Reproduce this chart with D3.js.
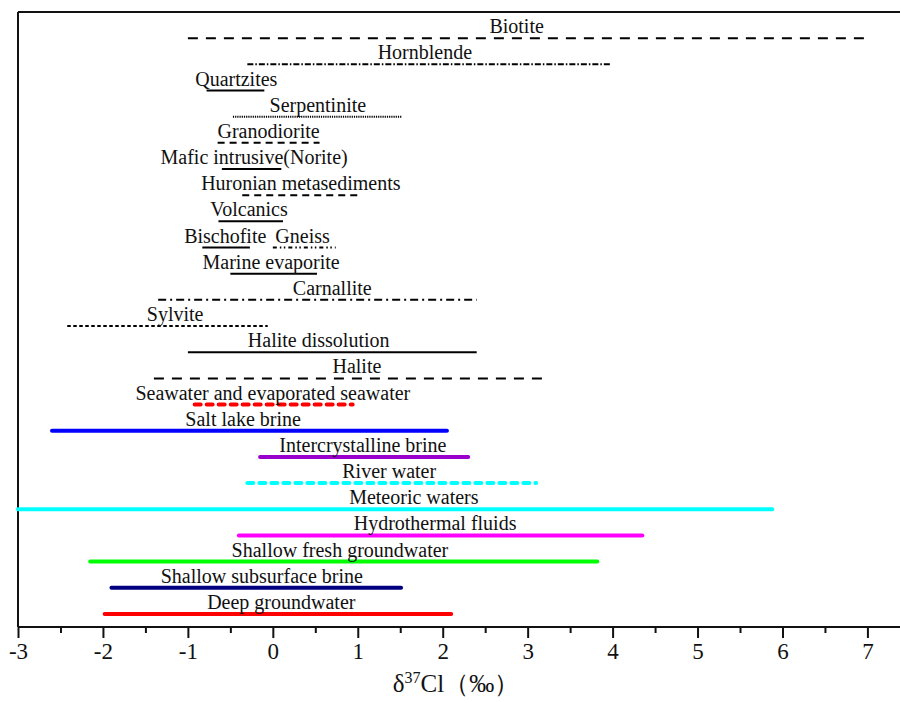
<!DOCTYPE html>
<html>
<head>
<meta charset="utf-8">
<script src="https://cdn.jsdelivr.net/npm/d3@7"></script>
<style>
  body { margin: 0; background: #fff; }
  text { font-family: "Liberation Serif", "Times New Roman", serif; fill: #111; }
</style>
</head>
<body>
<div id="chart"></div>
<script>
"use strict";

// one entry per range bar, top to bottom
var names = ["Biotite", "Hornblende", "Quartzites", "Serpentinite", "Granodiorite",
  "Mafic intrusive(Norite)", "Huronian metasediments", "Volcanics", "Bischofite", "Gneiss",
  "Marine evaporite", "Carnallite", "Sylvite", "Halite dissolution", "Halite",
  "Seawater and evaporated seawater", "Salt lake brine", "Intercrystalline brine", "River water",
  "Meteoric waters", "Hydrothermal fluids", "Shallow fresh groundwater",
  "Shallow subsurface brine", "Deep groundwater"];
var rows = [0, 1, 2, 3, 4, 5, 6, 7, 8, 8, 9, 10, 11, 12, 13, 14, 15, 16, 17, 18, 19, 20, 21, 22];
var lows = [-1.0, -0.3, -0.78, -0.47, -0.65, -0.6, -0.36, -0.64, -0.83, 0.0, -0.5, -1.35, -2.42,
  -1.0, -1.4, -0.92, -2.6, -0.15, -0.3, -3.0, -0.4, -2.15, -1.9, -1.98];
var highs = [7.0, 3.97, -0.1, 1.52, 0.55, 0.1, 1.0, 0.12, -0.27, 0.74, 0.52, 2.4, -0.06,
  2.4, 3.24, 0.94, 2.05, 2.3, 3.1, 5.88, 4.35, 3.82, 1.51, 2.1];
// where each label is centred, in ‰
var labelAt = [2.87, 1.79, -0.43, 0.53, -0.05, -0.22, 0.33, -0.28, -0.56, 0.35, -0.02, 0.7,
  -1.15, 0.54, 0.99, 0.0, -0.35, 1.06, 1.37, 1.66, 1.91, 0.79, -0.13, 0.1];
var colors = ["#000", "#000", "#000", "#000", "#000", "#000", "#000", "#000", "#000", "#000",
  "#000", "#000", "#000", "#000", "#000", "#ff0000", "#0000ff", "#9900cc", "#00ffff",
  "#00ffff", "#ff00ff", "#00ff00", "#000080", "#ff0000"];
var styles = ["dash", "dashdot", "solid", "dot", "dashmid", "solid", "dashmid", "solid", "solid",
  "dashdotdot", "solid", "dashdotlong", "short", "solid", "dash", "boldDash", "bold", "bold",
  "boldDash", "bold", "bold", "bold", "bold", "bold"];
var xTicks = [-3, -2, -1, 0, 1, 2, 3, 4, 5, 6, 7];

var dashes = {
  solid: null, bold: null,
  dash: "10,8", dashmid: "7,5", dot: "1.2,1", short: "3.5,2.5",
  dashdot: "6,2,1.5,2", dashdotlong: "8,4,2,4", dashdotdot: "4,3,1.5,2.5,1.5,3",
  boldDash: "6,6"
};

var width = 900, height = 702;
var margin = { top: 12, right: 2, bottom: 75, left: 18 };

var svg = d3.select("#chart").append("svg")
  .attr("width", width).attr("height", height);

var x = d3.scaleLinear().domain([-3, 7.36]).range([margin.left, width - margin.right]);
var y = d3.scaleLinear().domain([-1, 22.5]).range([margin.top, height - margin.bottom]);

// frame: top and left lines
svg.append("line").attr("x1", margin.left).attr("x2", width).attr("y1", margin.top).attr("y2", margin.top)
  .attr("stroke", "#111").attr("stroke-width", 2);
svg.append("line").attr("x1", margin.left).attr("x2", margin.left).attr("y1", margin.top).attr("y2", y(22.5))
  .attr("stroke", "#111").attr("stroke-width", 2);

// bottom axis with minor ticks
var xAxis = d3.axisBottom(x).tickValues(xTicks).tickSize(11).tickPadding(5).tickFormat(d3.format("d"));
var gx = svg.append("g").attr("transform", "translate(0," + y(22.5) + ")").call(xAxis);
gx.select(".domain").attr("d", "M" + margin.left + ",0H" + width).attr("stroke", "#111").attr("stroke-width", 2);
gx.selectAll(".tick line").attr("stroke", "#111").attr("stroke-width", 2);
gx.selectAll(".tick text").style("font-family", "Liberation Serif").style("font-size", "23px").attr("fill", "#111")
  .text(function (d) { return d < 0 ? "-" + Math.abs(d) : d; });
svg.append("g").attr("transform", "translate(0," + y(22.5) + ")")
  .call(d3.axisBottom(x).tickValues(d3.range(-2.5, 7, 1)).tickSize(6).tickFormat(""))
  .call(function (g) {
    g.select(".domain").remove();
    g.selectAll(".tick line").attr("stroke", "#111").attr("stroke-width", 2);
  });

// axis title
var title = svg.append("text").attr("x", 456).attr("y", 692)
  .attr("text-anchor", "middle").style("font-size", "25px");
title.append("tspan").text("δ");
title.append("tspan").attr("dy", -9).style("font-size", "16px").text("37");
title.append("tspan").attr("dy", 9).text("Cl（‰）");

// range bars
var idx = d3.range(names.length);
svg.append("g").selectAll("line").data(idx).join("line")
  .attr("x1", function (i) { return x(lows[i]); })
  .attr("x2", function (i) { return x(highs[i]); })
  .attr("y1", function (i) { return y(rows[i]); })
  .attr("y2", function (i) { return y(rows[i]); })
  .attr("stroke", function (i) { return colors[i]; })
  .attr("stroke-width", function (i) { return styles[i].indexOf("bold") === 0 ? 4 : 2; })
  .attr("stroke-linecap", function (i) { return styles[i].indexOf("bold") === 0 ? "round" : "butt"; })
  .attr("stroke-dasharray", function (i) { return dashes[styles[i]]; });

svg.append("g").selectAll("text").data(idx).join("text")
  .attr("x", function (i) { return x(labelAt[i]); })
  .attr("y", function (i) { return y(rows[i]) - 5; })
  .attr("text-anchor", "middle")
  .style("font-size", "20px")
  .text(function (i) { return names[i]; });
</script>
</body>
</html>
